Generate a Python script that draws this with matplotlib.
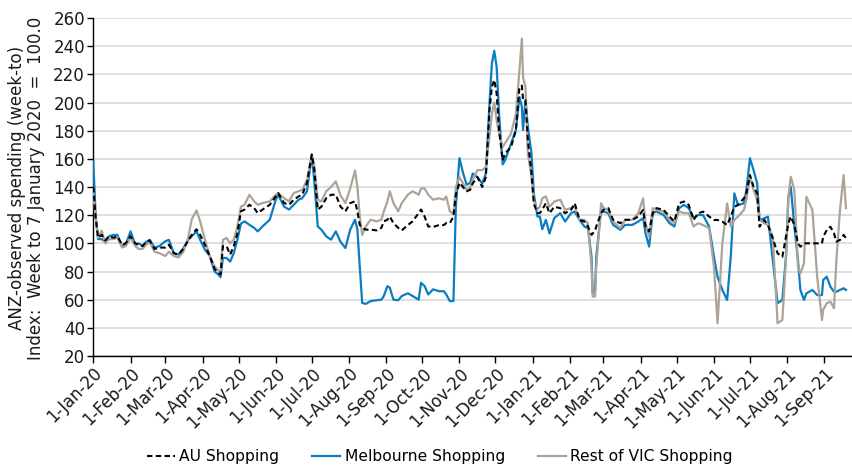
import numpy as np
import matplotlib.pyplot as plt
import matplotlib.dates as mdates
import pandas as pd

# ------------------------------------------------------------
# Data (index, week to 7 Jan 2020 = 100)
# ------------------------------------------------------------
dates = [
    "2020-01-01", "2020-01-03", "2020-01-05", "2020-01-08", "2020-01-11", "2020-01-14",
    "2020-01-18", "2020-01-21", "2020-01-25", "2020-01-28", "2020-02-01", "2020-02-05",
    "2020-02-08", "2020-02-11", "2020-02-14", "2020-02-17", "2020-02-21", "2020-02-25",
    "2020-03-01", "2020-03-04", "2020-03-08", "2020-03-12", "2020-03-16", "2020-03-20",
    "2020-03-23", "2020-03-27", "2020-03-30", "2020-04-03", "2020-04-07", "2020-04-11",
    "2020-04-14", "2020-04-16", "2020-04-18", "2020-04-21", "2020-04-24", "2020-04-27",
    "2020-04-30", "2020-05-03", "2020-05-06", "2020-05-10", "2020-05-14", "2020-05-17",
    "2020-05-21", "2020-05-27", "2020-06-01", "2020-06-03", "2020-06-08", "2020-06-12",
    "2020-06-16", "2020-06-20", "2020-06-23", "2020-06-27", "2020-07-01", "2020-07-03",
    "2020-07-06", "2020-07-09", "2020-07-13", "2020-07-17", "2020-07-21", "2020-07-25",
    "2020-07-29", "2020-08-02", "2020-08-06", "2020-08-08", "2020-08-10", "2020-08-12",
    "2020-08-15", "2020-08-19", "2020-08-24", "2020-08-28", "2020-08-30", "2020-09-02",
    "2020-09-04", "2020-09-07", "2020-09-11", "2020-09-14", "2020-09-19", "2020-09-23",
    "2020-09-28", "2020-09-30", "2020-10-03", "2020-10-06", "2020-10-10", "2020-10-15",
    "2020-10-19", "2020-10-21", "2020-10-24", "2020-10-27", "2020-10-29", "2020-11-01",
    "2020-11-04", "2020-11-07", "2020-11-10", "2020-11-12", "2020-11-16", "2020-11-20",
    "2020-11-23", "2020-11-26", "2020-11-28", "2020-11-30", "2020-12-02", "2020-12-04",
    "2020-12-07", "2020-12-09", "2020-12-14", "2020-12-18", "2020-12-21", "2020-12-23",
    "2020-12-24", "2020-12-26", "2020-12-28", "2020-12-31",
    "2021-01-02", "2021-01-05", "2021-01-07", "2021-01-09", "2021-01-12", "2021-01-15",
    "2021-01-19", "2021-01-24", "2021-01-28", "2021-02-02", "2021-02-05", "2021-02-09",
    "2021-02-13", "2021-02-16", "2021-02-19", "2021-02-20", "2021-02-22", "2021-02-23",
    "2021-02-27", "2021-03-01", "2021-03-05", "2021-03-09", "2021-03-15", "2021-03-19",
    "2021-03-25", "2021-03-30", "2021-04-03", "2021-04-05", "2021-04-08", "2021-04-11",
    "2021-04-14", "2021-04-20", "2021-04-25", "2021-04-29", "2021-05-03", "2021-05-07",
    "2021-05-11", "2021-05-15", "2021-05-19", "2021-05-23", "2021-05-28", "2021-06-01",
    "2021-06-04", "2021-06-08", "2021-06-12", "2021-06-15", "2021-06-18", "2021-06-21",
    "2021-06-26", "2021-06-28", "2021-07-01", "2021-07-04", "2021-07-07", "2021-07-09",
    "2021-07-13", "2021-07-16", "2021-07-20", "2021-07-24", "2021-07-28", "2021-07-31",
    "2021-08-02", "2021-08-04", "2021-08-07", "2021-08-10", "2021-08-12", "2021-08-15",
    "2021-08-17", "2021-08-22", "2021-08-26", "2021-08-30", "2021-08-31", "2021-09-03",
    "2021-09-06", "2021-09-09", "2021-09-11", "2021-09-14", "2021-09-17", "2021-09-19",
]

au_shopping = [
    140, 118, 104, 106, 102, 105, 104, 105, 99, 100, 105, 100,
    99, 98, 101, 102, 96, 97, 97, 99, 93, 92, 96, 102,
    106, 110, 106, 99, 91, 82, 79, 78, 98, 98, 92, 98,
    107, 122.7, 124, 127.4, 125, 121.5, 124, 127.4, 133.3, 135.7, 128.6, 127.4,
    131, 133.3, 134.5, 143, 163, 153, 124, 126, 132, 134.5, 134.5, 126,
    122.7, 128.6, 129.8, 122.7, 113, 111, 109.7, 109.7, 109.2, 111, 115.6, 116.8,
    119, 114.4, 111, 109.2, 113, 115.6, 121.5, 124, 119, 112, 111.6, 113,
    113, 114.4, 114.4, 119, 134.5, 143, 140, 137, 138, 142.5, 147, 140,
    147, 194.6, 211, 216, 206.4, 180.4, 159, 163.8, 168.5, 180.4, 211, 212,
    201.7, 201.7, 173, 150,
    128, 121.5, 121.5, 124, 128.5, 121.4, 126, 125, 121.4, 123.8, 128.5, 116.7,
    115.5, 112, 106, 107, 109, 112, 121.4, 123.8, 125, 116.7, 114.3, 116.7,
    116.7, 119, 123.8, 112, 108.4, 121.4, 125, 123.8, 119, 115.5, 128.5, 129.7,
    127.3, 116.7, 121.4, 122.5, 119, 116.6, 116.6, 115.4, 113, 119, 126, 127.2,
    132, 135.5, 148.5, 140.2, 135.5, 111.8, 116.6, 113, 103.6, 92.9, 90.5, 104.7,
    114.2, 119, 113, 100, 97.6, 100, 100, 100, 100, 100, 104.7, 109.5,
    111.8, 107.1, 101.2, 102.4, 106, 103.6,
]

melbourne_shopping = [
    158, 119, 103, 103, 101, 105, 106, 106, 98, 99, 108.5, 99,
    100, 98, 101, 102.5, 97, 98, 101.5, 102.5, 93, 92, 96.5, 102.5,
    105, 108.5, 102.5, 95.5, 91, 80, 78, 76, 89.6, 89.6, 87, 93,
    102.6, 114, 115.6, 113.2, 111, 108.5, 112, 116.8, 131, 134.5, 126, 124,
    127.4, 131, 132, 137, 163, 145, 112, 109.7, 105, 102.6, 108.5, 101,
    96.7, 109.7, 116.8, 109.7, 83, 57.7, 57, 59, 59.6, 60, 62.6, 69.6,
    68.5, 60, 59.6, 62.6, 64.5, 62.6, 60, 72, 69.6, 63.7, 67.3, 66,
    66, 63.7, 59, 59, 126, 160.5, 150, 141.6, 143, 149.6, 147, 142.5,
    149.6, 199, 227.7, 236.7, 225.3, 192, 156, 159, 171, 180.4, 204, 197,
    180.5, 202, 182.7, 164,
    135, 119, 119, 110, 116.7, 107, 118, 121.4, 115.5, 121.4, 122.6, 116.7,
    112, 110.8, 90.6, 64.6, 67, 90.6, 123.8, 122.6, 121.4, 113.1, 109.6, 113.1,
    113.1, 115.5, 117.9, 107.2, 97.7, 121.4, 122.6, 120.2, 114.3, 112, 125, 127.3,
    125, 117.9, 120.2, 120, 111.8, 90.5, 76.3, 66.9, 59.8, 90.5, 135.5, 127.2,
    128.4, 137.9, 160.4, 152, 142.6, 116.6, 117.8, 119, 88.2, 57.5, 59.8, 90.5,
    133.1, 140.2, 111.8, 88.2, 66.9, 59.8, 64.5, 66.9, 63.3, 63.3, 74, 76.3,
    69.2, 65.7, 65.7, 66.9, 68.1, 66.9,
]

rest_of_vic_shopping = [
    136, 118, 104, 109, 100, 103, 103, 104, 97, 98, 104, 98,
    96, 96, 99, 101, 94, 93, 91, 94, 91, 90, 94, 104,
    117, 123.4, 115.6, 102.5, 91, 83.7, 81, 80, 102.6, 103.8, 100, 102.6,
    112, 126, 127.4, 134.5, 129.8, 127.4, 128.6, 129.8, 134.5, 135.7, 132, 129.8,
    135.7, 137, 138, 145, 163, 156, 131, 129.8, 137, 140, 144, 134,
    128.6, 139, 151.7, 140, 119, 106, 112, 116.8, 115.6, 116.8, 122.7, 129.8,
    137, 128.6, 122.7, 128.6, 134.5, 137, 134.5, 139, 139, 134.5, 131, 132,
    131, 133.3, 122.7, 121, 140, 147, 142.7, 137.5, 140, 145, 152, 152,
    154.3, 175.6, 192, 200, 187.5, 178, 168.5, 171, 178, 192, 223, 245.5,
    218, 211, 163.8, 147,
    130, 124, 126, 132, 133.3, 126, 129.7, 131, 123.8, 125, 126, 116.7,
    116.7, 114.3, 83.6, 62.2, 62.2, 83.6, 128.5, 125, 123.8, 115.5, 110.8, 116.7,
    116.7, 121.4, 132, 114.3, 104.9, 125, 123.8, 122.6, 116.7, 114.3, 122.6, 121.4,
    121.4, 112, 114.3, 113, 110.7, 83.4, 43.2, 100, 128.4, 111.8, 116.6, 119,
    123.7, 130.8, 147.3, 137.9, 130.8, 116.6, 114.2, 113, 104.7, 43.2, 45.6, 88.2,
    133.1, 147.3, 137.9, 83.4, 78.7, 85.8, 133.1, 123.7, 76.3, 45.6, 52.8, 57.5,
    58.6, 53.9, 88.2, 123.7, 148.5, 124.9,
]

series_names = ["AU Shopping", "Melbourne Shopping", "Rest of VIC Shopping"]

COLOR_AU = "#000000"
COLOR_MEL = "#0A7DC2"
COLOR_VIC = "#ADA398"

dt = pd.to_datetime(dates)

plt.rcParams["font.family"] = ["DejaVu Sans"]

fig = plt.figure(figsize=(8.52, 4.68), dpi=100)
ax = fig.add_axes([0.1095, 0.2393, 0.8905, 0.7222])

# Melbourne and Rest of VIC first, AU dashed on top
ax.plot(dt, melbourne_shopping, color=COLOR_MEL, linewidth=1.6, label=series_names[1], zorder=3)
ax.plot(dt, rest_of_vic_shopping, color=COLOR_VIC, linewidth=1.6, label=series_names[2], zorder=4)
ax.plot(dt, au_shopping, color=COLOR_AU, linewidth=1.5, linestyle=(0, (2.6, 1.6)),
        label=series_names[0], zorder=5)

ax.set_ylim(20, 260)
ax.set_yticks(np.arange(20, 261, 20))
ax.set_xlim(pd.Timestamp("2020-01-01"), pd.Timestamp("2021-09-24"))

ax.xaxis.set_major_locator(mdates.MonthLocator(bymonthday=1))
ax.xaxis.set_major_formatter(
    plt.FuncFormatter(lambda v, pos: "1-" + mdates.num2date(v).strftime("%b-%y"))
)

ax.grid(True, axis="y", color="#D9D9D9", linewidth=1.2, zorder=0)
ax.set_axisbelow(True)

for side in ["top", "right"]:
    ax.spines[side].set_visible(False)
for side in ["left", "bottom"]:
    ax.spines[side].set_color("black")
    ax.spines[side].set_linewidth(1.0)

ax.tick_params(axis="y", direction="out", length=4, width=1, labelsize=12, pad=2,
               colors="black", labelcolor="#1a1a1a")
ax.tick_params(axis="x", direction="out", length=5, width=1, labelsize=12, pad=1,
               colors="black", labelcolor="#1a1a1a")
for lbl in ax.get_xticklabels():
    lbl.set_rotation(45)
    lbl.set_ha("right")
    lbl.set_rotation_mode("anchor")

fig.text(0.031, 0.598, "ANZ-observed spending (week-to)\nIndex:  Week to 7 January 2020  =  100.0",
         rotation=90, ha="center", va="center", fontsize=12, color="#1a1a1a",
         linespacing=1.12)

handles, labels = ax.get_legend_handles_labels()
order = [2, 0, 1]
fig.legend(
    [handles[i] for i in order], [labels[i] for i in order],
    loc="center", bbox_to_anchor=(0.516, 0.024), ncol=3, frameon=False,
    fontsize=11.2, handlelength=1.8, handletextpad=0.3, columnspacing=2.1,
    borderpad=0.1,
)

fig.savefig("out.png", dpi=100)
